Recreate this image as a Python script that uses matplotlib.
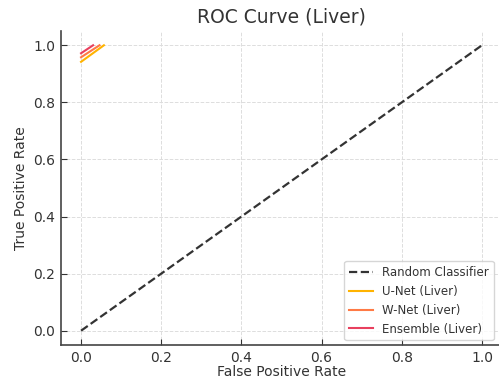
import matplotlib
matplotlib.use("Agg")
import matplotlib.pyplot as plt

# ROC points (false positive rate, true positive rate)
random_fpr = [0.0, 1.0]
random_tpr = [0.0, 1.0]
unet_fpr = [0.0, 0.057]
unet_tpr = [0.942, 1.0]
wnet_fpr = [0.0, 0.046]
wnet_tpr = [0.958, 1.0]
ens_fpr = [0.0, 0.03]
ens_tpr = [0.972, 1.0]

txt = "#333333"
plt.rcParams["text.color"] = txt
plt.rcParams["axes.labelcolor"] = txt
plt.rcParams["xtick.color"] = txt
plt.rcParams["ytick.color"] = txt

fig = plt.figure(figsize=(4.99, 3.8), dpi=100)
ax = fig.add_axes([61 / 499, 35 / 380, 441 / 499, 314 / 380])
ax.plot(random_fpr, random_tpr, "--", lw=1.6, color="#333333", label="Random Classifier")
ax.plot(unet_fpr, unet_tpr, color="#FFB300", lw=1.5, label="U-Net (Liver)")
ax.plot(wnet_fpr, wnet_tpr, color="#FF7A45", lw=1.5, label="W-Net (Liver)")
ax.plot(ens_fpr, ens_tpr, color="#E8405E", lw=1.5, label="Ensemble (Liver)")

ax.set_xlim(-0.05, 1.05)
ax.set_ylim(-0.05, 1.05)
ax.set_xlabel("False Positive Rate", fontsize=10, labelpad=0.5)
ax.set_ylabel("True Positive Rate", fontsize=10, labelpad=4)
ax.set_title("ROC Curve (Liver)", fontsize=13.5, pad=6)
ax.tick_params(labelsize=10, length=4, direction="in", pad=4, color="#333333")
for side in ["top", "right"]:
    ax.spines[side].set_visible(False)
for side in ["left", "bottom"]:
    ax.spines[side].set_color("#444444")
    ax.spines[side].set_linewidth(1.2)
ax.grid(True, linestyle="--", color="#dddddd", lw=0.7)
ax.legend(loc="lower right", fontsize=8.5, bbox_to_anchor=(0.992, 0.0),
          borderaxespad=0.4, edgecolor="#cccccc")
plt.savefig("out.png")
